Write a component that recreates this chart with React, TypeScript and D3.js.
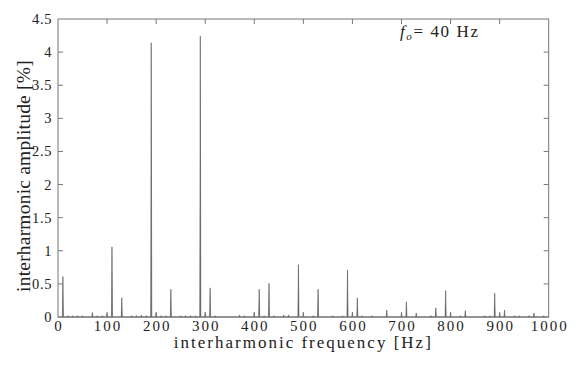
import React from "react";
import * as d3 from "d3";

const freqs = [10, 20, 30, 40, 50, 70, 80, 90, 100, 110, 130, 150, 160, 170, 180, 190, 200, 210, 220, 230, 250, 260, 270, 280, 290, 300, 310, 320, 370, 380, 400, 410, 420, 430, 440, 460, 470, 490, 500, 520, 530, 560, 580, 590, 600, 610, 620, 640, 670, 700, 710, 730, 760, 770, 790, 800, 820, 830, 870, 880, 890, 900, 910, 930, 940, 960, 970, 990];
const amps = [0.61, 0.02, 0.02, 0.02, 0.02, 0.07, 0.02, 0.02, 0.055, 1.06, 0.29, 0.02, 0.02, 0.03, 0.02, 4.14, 0.065, 0.02, 0.02, 0.42, 0.02, 0.02, 0.02, 0.02, 4.24, 0.065, 0.44, 0.02, 0.03, 0.02, 0.065, 0.42, 0.02, 0.51, 0.02, 0.03, 0.03, 0.79, 0.06, 0.02, 0.42, 0.02, 0.02, 0.71, 0.07, 0.29, 0.02, 0.02, 0.105, 0.065, 0.23, 0.06, 0.02, 0.14, 0.40, 0.065, 0.02, 0.095, 0.02, 0.02, 0.36, 0.06, 0.105, 0.02, 0.02, 0.02, 0.06, 0.02];

const xTicks = [0, 100, 200, 300, 400, 500, 600, 700, 800, 900, 1000];
const yTicks = [0, 0.5, 1, 1.5, 2, 2.5, 3, 3.5, 4, 4.5];

const W = 587, H = 373;
const L = 58, R = 548.7, T = 19, B = 317;

export default function App() {
  const x = d3.scaleLinear().domain([0, 1000]).range([L, R]);
  const y = d3.scaleLinear().domain([0, 4.5]).range([B, T]);
  const hw = 1.1; // spike half-width in Hz (style)
  const line = d3.line<[number, number]>().x(d => x(d[0])).y(d => y(d[1]));
  const serif = "'Liberation Serif', 'DejaVu Serif', serif";
  const axisColor = "#777";
  const tl = 5;
  return (
    <svg width={W} height={H} style={{ position: "absolute", left: 0, top: 0, background: "#fff" }} fontFamily={serif}>
      <rect x={0} y={0} width={W} height={H} fill="#fff" />
      <line x1={x(0)} x2={x(1000)} y1={y(0)} y2={y(0)} stroke="#666" strokeWidth={1} />
      {freqs.map((f, i) => (
        <path key={i} d={line([[f - hw, 0], [f, amps[i]], [f + hw, 0]]) || ""} fill="#666" stroke="#555" strokeWidth={0.6} />
      ))}
      <rect x={L} y={T} width={R - L} height={B - T} fill="none" stroke={axisColor} strokeWidth={1} />
      {xTicks.slice(1, -1).map(t => (
        <g key={"xt" + t}>
          <line x1={x(t)} x2={x(t)} y1={B} y2={B - tl} stroke={axisColor} />
          <line x1={x(t)} x2={x(t)} y1={T} y2={T + tl} stroke={axisColor} />
        </g>
      ))}
      {yTicks.slice(1, -1).map(t => (
        <g key={"yt" + t}>
          <line x1={L} x2={L + tl} y1={y(t)} y2={y(t)} stroke={axisColor} />
          <line x1={R} x2={R - tl} y1={y(t)} y2={y(t)} stroke={axisColor} />
        </g>
      ))}
      {xTicks.map(t => (
        <text key={"xl" + t} x={x(t) + 1} y={B + 14} textAnchor="middle" fontSize={15} letterSpacing={2} fill="#222">{t}</text>
      ))}
      {yTicks.map(t => (
        <text key={"yl" + t} x={L - 6} y={y(t) + 5} textAnchor="end" fontSize={14.5} letterSpacing={0.6} fill="#222">{t === 0 ? "0" : t.toFixed(1).replace(/\.0$/, "")}</text>
      ))}
      <text x={(L + R) / 2} y={348} textAnchor="middle" fontSize={17} letterSpacing={2} fill="#222">interharmonic frequency [Hz]</text>
      <text transform={`translate(30,176) rotate(-90)`} textAnchor="middle" fontSize={19.5} letterSpacing={0.2} fill="#222">interharmonic amplitude [%]</text>
      <text x={400} y={37} fontSize={17} fill="#222" letterSpacing={1.6}>
        <tspan fontStyle="italic">f</tspan>
        <tspan fontStyle="italic" fontSize={11} dy={3}>o</tspan>
        <tspan dy={-3}>= 40 Hz</tspan>
      </text>
    </svg>
  );
}
